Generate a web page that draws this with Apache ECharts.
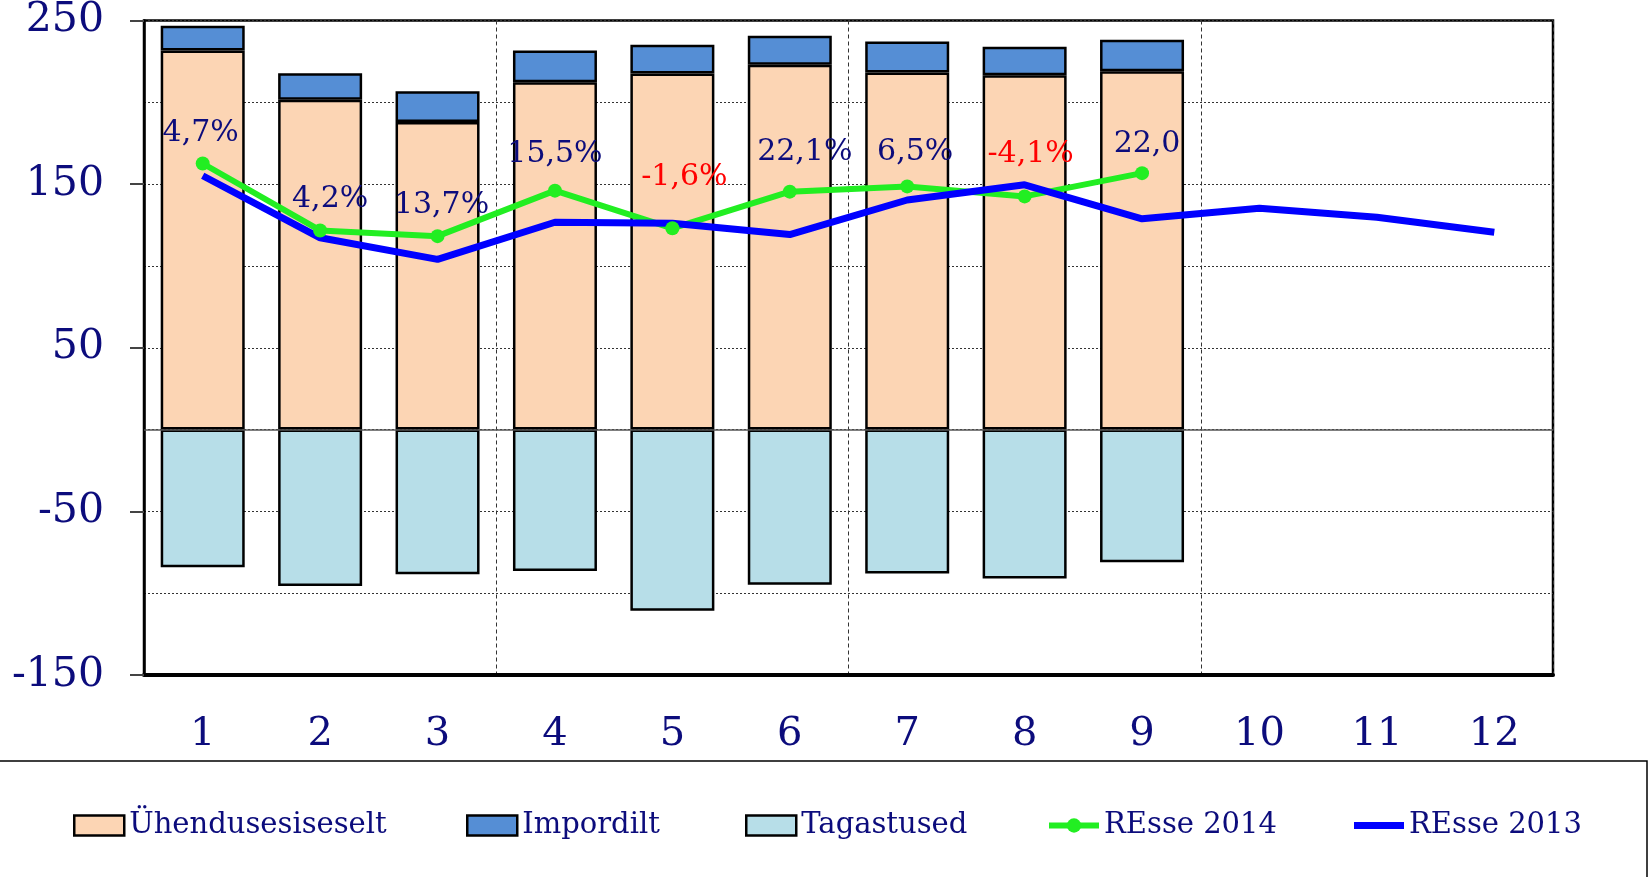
<!DOCTYPE html>
<html>
<head>
<meta charset="utf-8">
<script src="https://cdn.jsdelivr.net/npm/echarts@6/dist/echarts.min.js"></script>
<style>
  html, body { margin: 0; padding: 0; background: #fff; }
  #chart { width: 1652px; height: 877px; }
</style>
</head>
<body>
<div id="chart"></div>
<script>
// kuud
const months = ['1', '2', '3', '4', '5', '6', '7', '8', '9', '10', '11', '12'];
// tulbad
const uhendusesiseselt = [231.6, 201.5, 188.0, 212.3, 217.6, 223.0, 218.2, 216.5, 219.0];
const impordilt = [15.2, 16.3, 18.8, 19.3, 17.6, 17.7, 19.0, 17.5, 19.3];
const tagastused = [-84.1, -95.6, -88.4, -86.4, -110.7, -94.9, -88.0, -91.0, -81.1];
// jooned
const resse2014 = [162.6, 121.7, 118.2, 146.0, 123.0, 145.4, 148.6, 142.5, 156.7];
const resse2013 = [155.1, 117.2, 104.0, 126.7, 126.1, 119.2, 140.3, 149.6, 128.8, 135.2, 129.7, 120.6];
const growthLabels = ['4,7%', '4,2%', '13,7%', '15,5%', '-1,6%', '22,1%', '6,5%', '-4,1%', '22,0'];

// sildi nihe punkti suhtes (px)
const labelOffsets = [[-2, -30], [10, -31], [4, -31], [0, -36], [12, -51], [15, -39], [8, -34], [6, -42], [5, -29]];

const navy = '#0c0c7c';
const font = 'DejaVu Serif';

const chart = echarts.init(document.getElementById('chart'));

let greenData = resse2014.map((v, i) => ({
  value: v,
  label: {
    offset: labelOffsets[i],
    color: growthLabels[i].charAt(0) === '-' ? '#ff0000' : navy,
  },
}));

function legendAt(name, left) {
  return {
    data: [{ name: name, icon: 'rect' }],
    left: left,
    top: 806,
    itemWidth: 50,
    itemHeight: 20,
    itemStyle: { borderColor: '#000', borderWidth: 2.5 },
    textStyle: { fontFamily: font, fontSize: 29, color: navy },
  };
}

let option = {
  animation: false,
  backgroundColor: '#fff',
  grid: {
    left: 144,
    right: 99,
    top: 20,
    bottom: 202,
    show: true,
    borderColor: '#000',
    borderWidth: 2.5,
  },
  legend: [
    legendAt('Ühendusesiseselt', 68),
    legendAt('Impordilt', 461),
    legendAt('Tagastused', 740),
    {
      ...legendAt('REsse 2014', 1041),
      data: ['REsse 2014'],
      itemStyle: { borderWidth: 0 },
      lineStyle: { width: 6 },
      itemHeight: 18,
    },
    {
      ...legendAt('REsse 2013', 1349),
      itemHeight: 7,
      itemStyle: { borderWidth: 0, color: '#0000ff' },
    },
  ],
  graphic: [
    {
      type: 'rect',
      shape: { x: -2, y: 761, width: 1649, height: 130 },
      style: { fill: 'none', stroke: '#000', lineWidth: 1.5 },
    },
  ],
  xAxis: {
    type: 'category',
    data: months,
    axisLine: { onZero: false, lineStyle: { color: '#000', width: 4 } },
    axisTick: { show: false },
    axisLabel: { fontFamily: font, fontSize: 40, color: navy, margin: 40 },
    splitLine: {
      show: true,
      interval: 2,
      lineStyle: { color: '#333', type: [4, 3], width: 1 },
    },
  },
  yAxis: [
    {
      type: 'value',
      min: -150,
      max: 250,
      interval: 50,
      axisLine: { show: true, lineStyle: { color: '#000', width: 2.5 } },
      axisTick: { show: false },
      axisLabel: {
        fontFamily: font,
        fontSize: 41,
        color: navy,
        margin: 40,
        formatter: (v) => ((v + 150) % 100 === 0 ? String(v) : ''),
      },
      splitLine: { lineStyle: { color: '#333', type: [2, 2], width: 1 } },
    },
    {
      // ainult kriipsud iga 100 järel
      type: 'value',
      position: 'left',
      min: -150,
      max: 250,
      interval: 100,
      axisLine: { show: false },
      axisTick: { show: true, length: 14, lineStyle: { color: '#444', width: 2 } },
      axisLabel: { show: false },
      splitLine: { show: false },
    },
  ],
  series: [
    {
      name: 'Ühendusesiseselt',
      type: 'bar',
      stack: 'kokku',
      barWidth: 84,
      data: uhendusesiseselt,
      itemStyle: { color: '#fcd5b4', borderColor: '#000', borderWidth: 2.5 },
      markLine: {
        silent: true,
        symbol: 'none',
        label: { show: false },
        lineStyle: { color: '#555', type: 'solid', width: 1.5 },
        data: [{ yAxis: 0 }],
      },
    },
    {
      name: 'Impordilt',
      type: 'bar',
      stack: 'kokku',
      barWidth: 84,
      data: impordilt,
      itemStyle: { color: '#558ed5', borderColor: '#000', borderWidth: 2.5 },
    },
    {
      name: 'Tagastused',
      type: 'bar',
      stack: 'kokku',
      barWidth: 84,
      data: tagastused,
      itemStyle: { color: '#b7dee8', borderColor: '#000', borderWidth: 2.5 },
    },
    {
      name: 'REsse 2014',
      type: 'line',
      data: greenData,
      symbol: 'circle',
      symbolSize: 14,
      lineStyle: { color: '#22ee22', width: 6 },
      itemStyle: { color: '#22ee22' },
      label: {
        show: true,
        position: 'inside',
        fontFamily: font,
        fontSize: 30,
        formatter: (p) => growthLabels[p.dataIndex],
      },
    },
    {
      name: 'REsse 2013',
      type: 'line',
      data: resse2013,
      symbol: 'none',
      lineStyle: { color: '#0000ff', width: 7 },
      itemStyle: { color: '#0000ff' },
    },
  ],
};

chart.setOption(option);
</script>
</body>
</html>
